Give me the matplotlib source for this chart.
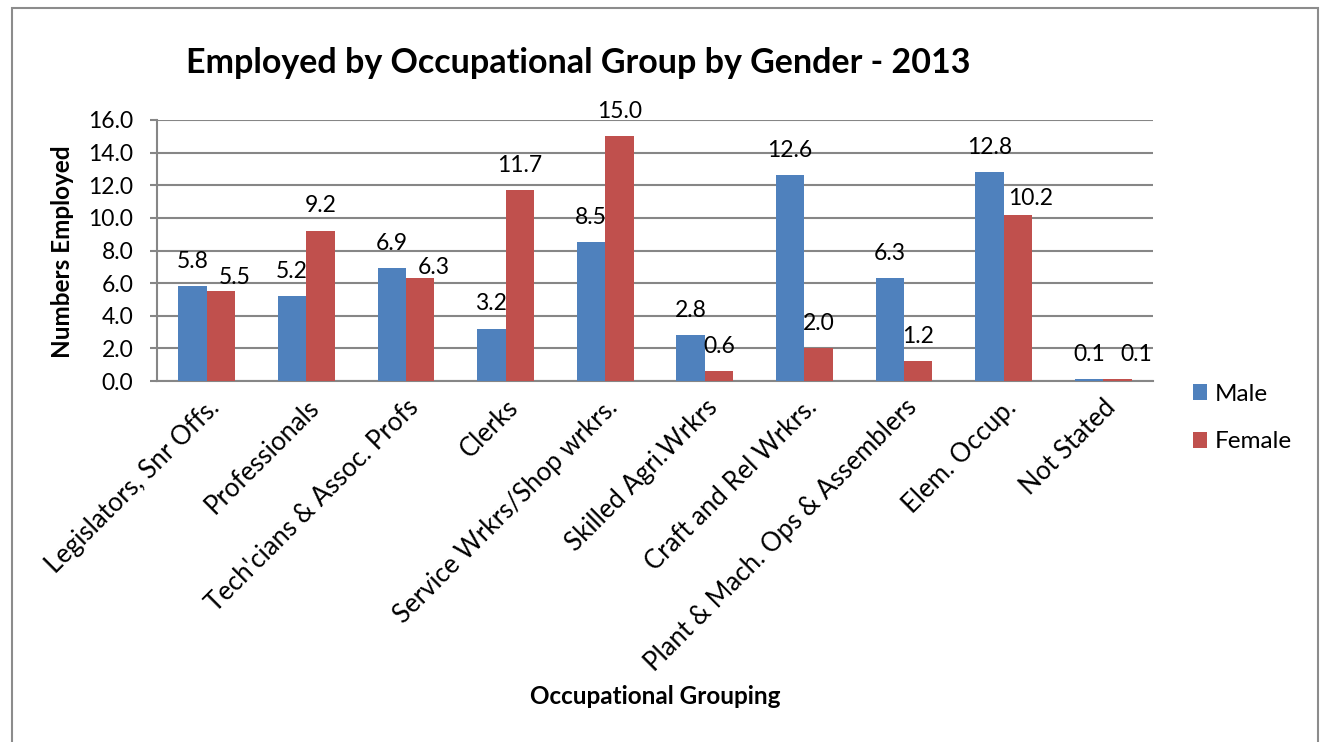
import matplotlib
matplotlib.use("Agg")
from matplotlib import pyplot as plt
from matplotlib.patches import Rectangle
import numpy as np

plt.rcParams['font.family'] = ['Lato', 'DejaVu Sans']

categories = ["Legislators, Snr Offs.", "Professionals", "Tech'cians & Assoc. Profs",
              "Clerks", "Service Wrkrs/Shop wrkrs.", "Skilled Agri.Wrkrs",
              "Craft and Rel Wrkrs.", "Plant & Mach. Ops & Assemblers",
              "Elem. Occup.", "Not Stated"]
male = [5.8, 5.2, 6.9, 3.2, 8.5, 2.8, 12.6, 6.3, 12.8, 0.1]
female = [5.5, 9.2, 6.3, 11.7, 15.0, 0.6, 2.0, 1.2, 10.2, 0.1]
yticks = [0, 2, 4, 6, 8, 10, 12, 14, 16]

blue = "#4F81BD"
red = "#C0504D"
grid_c = "#868686"

fig = plt.figure(figsize=(13.23, 7.42), dpi=100)
ax = fig.add_axes([157/1323, 1-381/742, (1153-157)/1323, (381-120)/742])

x = np.arange(len(categories))
w = 0.285
b1 = ax.bar(x - w/2, male, w, color=blue, label="Male", zorder=3)
b2 = ax.bar(x + w/2, female, w, color=red, label="Female", zorder=3)

# labels that were dragged aside in the original (pixel nudges)
female_nudge = {0: (14, -11), 2: (14, -14), 8: (13, -9), 9: (19, 0)}

for i, (r, v) in enumerate(zip(b1, male)):
    ax.annotate(f"{v:.1f}", (r.get_x() + r.get_width()/2, v), xytext=(0, 10.5),
                textcoords="offset points", ha="center", va="bottom", fontsize=16.5)
for i, (r, v) in enumerate(zip(b2, female)):
    dx, dy = female_nudge.get(i, (0, 0))
    ax.annotate(f"{v:.1f}", (r.get_x() + r.get_width()/2, v),
                xytext=(dx*0.72, 10.5 + dy*0.72),
                textcoords="offset points", ha="center", va="bottom", fontsize=16.5)

ax.set_xlim(-0.5, len(categories) - 0.5)
ax.set_ylim(0, 16)
ax.set_yticks(yticks)
ax.set_yticklabels([f"{t:.1f}" for t in yticks], fontsize=16.5)
ax.yaxis.grid(True, color=grid_c, linewidth=1.5, zorder=0)
ax.tick_params(axis="y", length=5, width=1.5, color=grid_c, pad=12)
ax.set_xticks(x)
ax.set_xticklabels(categories, rotation=45, ha="right", rotation_mode="anchor", fontsize=18.5)
ax.tick_params(axis="x", length=0, pad=10)
for s in ("top", "right"):
    ax.spines[s].set_visible(False)
for s in ("left", "bottom"):
    ax.spines[s].set_color(grid_c)
    ax.spines[s].set_linewidth(1.5)

fig.text(62/1323, 1-252/742, "Numbers Employed", rotation=90, ha="center", va="center",
         fontsize=17.5, fontweight="bold")
fig.text(655/1323, 1-697/742, "Occupational Grouping", ha="center", va="center",
         fontsize=17.5, fontweight="bold")
fig.text(578/1323, 1-63/742, "Employed by Occupational Group by Gender - 2013",
         ha="center", va="center", fontsize=24.5, fontweight="bold")

leg = fig.legend(handles=[b1, b2], loc="center left", bbox_to_anchor=(1171/1323, 1-418/742),
                 frameon=False, fontsize=17.5, handlelength=0.6, handleheight=0.6,
                 labelspacing=1.1, handletextpad=0.3)

fig.patches.append(Rectangle((12/1323, -0.05), (1318-12)/1323, 1.05-8/742,
                             transform=fig.transFigure, fill=False, edgecolor="#8c8c8c",
                             linewidth=1.5))

fig.savefig("out.png", dpi=100)
